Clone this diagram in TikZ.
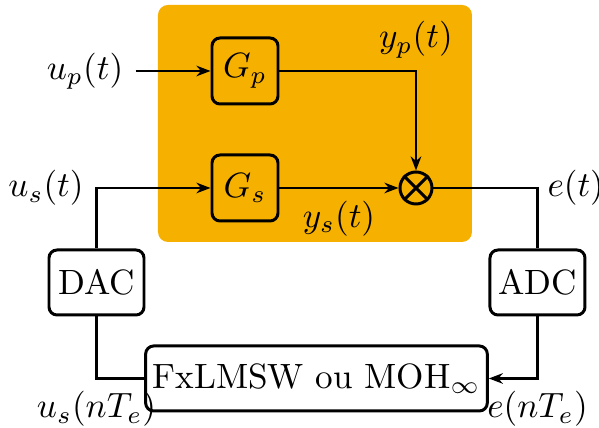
\documentclass[tikz,border=0pt]{standalone}
\usetikzlibrary{arrows.meta}
\definecolor{plantbg}{RGB}{245,176,0}

\begin{document}
\begin{tikzpicture}[
    block/.style={draw, line width=0.85pt, rounded corners=0.08cm,
                  minimum width=0.66cm, minimum height=0.66cm, inner sep=2pt},
    conv/.style={block, minimum width=0.95cm, minimum height=0.65cm},
    sig/.style={line width=0.7pt},
    arr/.style={sig, -{Stealth[length=4pt, width=3pt]}}]
  \useasboundingbox (0,0) rectangle (5.99,4.28);
  \fill[plantbg, rounded corners=0.1cm] (1.58,1.86) rectangle (4.72,4.23);
  \node[block] (Gp) at (2.45,3.57) {$G_p$};
  \node[block] (Gs) at (2.45,2.40) {$G_s$};
  \node[circle, draw, line width=0.85pt, minimum size=0.32cm, inner sep=0pt] (mix) at (4.16,2.40) {};
  \draw[line width=0.85pt] (mix.north west) -- (mix.south east) (mix.north east) -- (mix.south west);
  \node[conv] (DAC) at (0.965,1.455) {DAC};
  \node[conv] (ADC) at (5.375,1.455) {ADC};
  \node[block, minimum width=3.3cm, minimum height=0.65cm] (algo) at (3.165,0.495) {FxLMSW ou MOH$_\infty$};
  \node (up) at (0.85,3.57) {$u_p(t)$};
  % signal paths
  \draw[arr] (up) -- (Gp);
  \draw[arr] (Gp) -| node[pos=0.5, above] {$y_p(t)$} (mix);
  \draw[arr] (Gs) -- node[below] {$y_s(t)$} (mix);
  \draw[sig] (mix) -| node[pos=0.5, right, inner sep=2.5pt] {$e(t)$} (ADC);
  \draw[arr] (ADC) |- node[pos=0.5, below] {$e(nT_e)$} (algo);
  \draw[sig] (algo) -| node[pos=0.5, below] {$u_s(nT_e)$} (DAC);
  \draw[arr] (DAC) |- node[pos=0.5, left] {$u_s(t)$} (Gs);
\end{tikzpicture}
\end{document}
